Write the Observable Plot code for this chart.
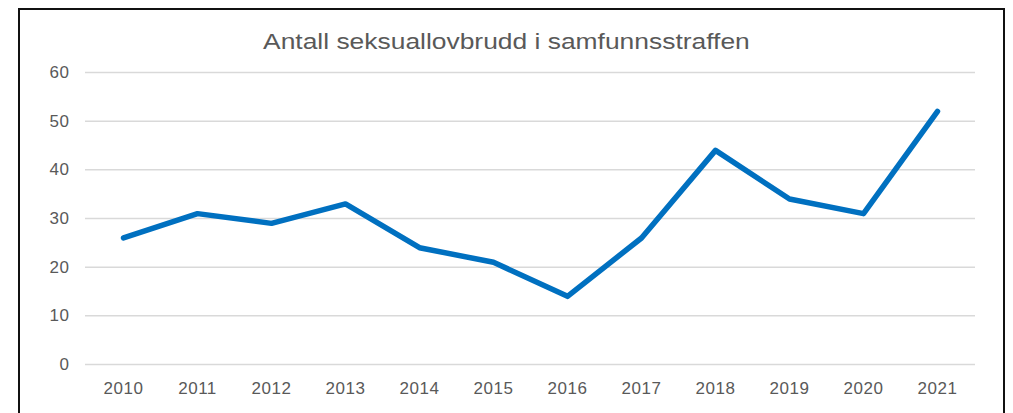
<!DOCTYPE html>
<html>
<head>
<meta charset="utf-8">
<script src="https://cdn.jsdelivr.net/npm/d3@7"></script>
<script src="https://cdn.jsdelivr.net/npm/@observablehq/plot@0.6"></script>
<style>
  html, body { margin: 0; padding: 0; background: #fff; width: 1013px; height: 413px; overflow: hidden; }
  #frame { position: absolute; left: 18px; top: 8px; width: 987px; height: 430px; border: 2px solid #111; box-sizing: border-box; }
  #title { position: absolute; left: 0; top: 27px; width: 1013px; text-align: center; font-family: "Liberation Sans", Arial, sans-serif; font-size: 22px; color: #595959; line-height: 30px; transform: scaleX(1.2); transform-origin: 507px 0; white-space: nowrap; }
  #chart { position: absolute; left: 0; top: 0; }
</style>
</head>
<body>
<div id="frame"></div>
<div id="chart"></div>
<div id="title">Antall seksuallovbrudd i samfunnsstraffen</div>
<script>
const years = ["2010","2011","2012","2013","2014","2015","2016","2017","2018","2019","2020","2021"];
const values = [26, 31, 29, 33, 24, 21, 14, 26, 44, 34, 31, 52];
const yTicks = [0, 10, 20, 30, 40, 50, 60];

const data = years.map((y, i) => ({year: y, value: values[i]}));

const chart = Plot.plot({
  width: 1013,
  height: 413,
  marginLeft: 85,
  marginRight: 38,
  marginTop: 72,
  marginBottom: 49,
  style: { fontFamily: "'Liberation Sans', Arial, sans-serif", fontSize: "17px", color: "#595959", background: "transparent", letterSpacing: "0.5px" },
  x: { type: "point", domain: years, padding: 0.5, label: null },
  y: { domain: [0, 60], label: null },
  marks: [
    Plot.ruleY(yTicks, { stroke: "#d9d9d9", strokeWidth: 1.5 }),
    Plot.axisX({ tickSize: 0, tickPadding: 17, label: null, fill: "#595959" }),
    Plot.axisY({ ticks: yTicks, tickSize: 0, tickPadding: 16, label: null, fill: "#595959" }),
    Plot.line(data, { x: "year", y: "value", stroke: "#0070C0", strokeWidth: 5.5, strokeLinecap: "round", strokeLinejoin: "round" })
  ]
});
document.getElementById("chart").appendChild(chart);
</script>
</body>
</html>
